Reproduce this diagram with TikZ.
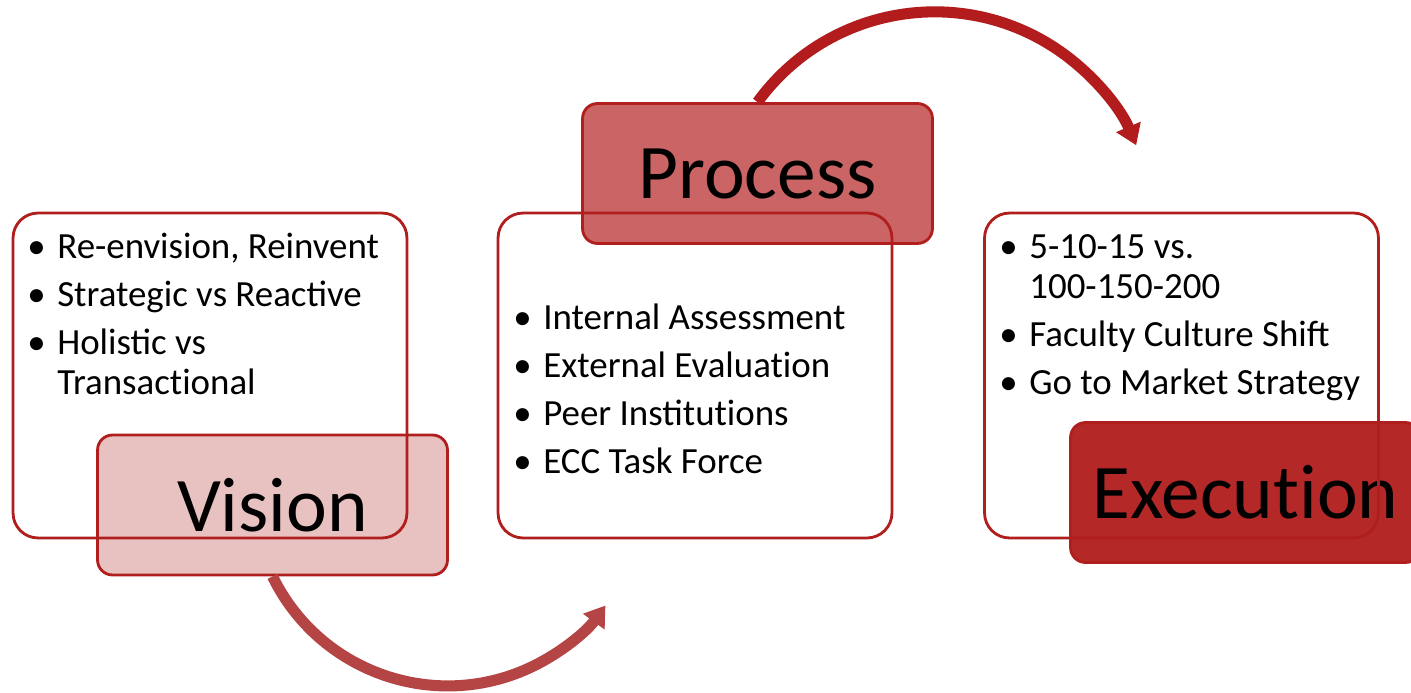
\documentclass[tikz,border=0pt]{standalone}
\usepackage{fontspec}
\setmainfont{Carlito}
\usetikzlibrary{positioning}
\usetikzlibrary{arrows.meta}
\definecolor{boxline}{HTML}{B01E1E}
\definecolor{visfill}{HTML}{E8C1C1}
\definecolor{procfill}{HTML}{CB6464}
\definecolor{execfill}{HTML}{B42828}
\definecolor{lowarrow}{HTML}{B54444}
\definecolor{higharrow}{HTML}{B21C1C}
\tikzset{%
  textbox/.style = {rectangle,draw=boxline,line width=1.6pt,
        rounded corners=0.5cm,minimum width=7.88cm,minimum height=6.5cm},
  labelbox/.style = {rectangle,draw=boxline,line width=1.6pt,
        rounded corners=0.3cm,minimum width=7.0cm,minimum height=2.8cm,
        font=\fontsize{44}{50}\selectfont},
  bigarrow/.style = {-{Triangle[length=0pt 1.8,width=0pt 2.3]},
        line width=6.3pt},
  items/.style = {anchor=base west,inner sep=0pt,
        font=\fontsize{21}{22.8}\selectfont}
}
\newcommand{\gap}{\\[0.16cm]}
% split t+i so no ligature is formed
\newcommand{\tsep}{t\kern0pt }

\begin{document}
\begin{tikzpicture}[x=0.02cm,y=-0.02cm]
   \useasboundingbox (0,0) rectangle (1411,693);
   \clip (0,0) rectangle (1411,693);
   % labels
   \node[labelbox,fill=visfill] (vislabel) at (272.5,505) {Vision};
   \node[labelbox,fill=procfill] (proclabel) at (757.5,173.5) {Process};
   \node[labelbox,fill=execfill] (execlabel) at (1245.5,492.5) {Execu\tsep ion};
   % arrows
   \draw[bigarrow,lowarrow] (vislabel.south)
      arc[start angle=206,end angle=324,radius=3.9cm];
   \draw[bigarrow,higharrow] (proclabel.north)
      arc[start angle=144,end angle=23,radius=4.38cm];
   % text boxes
   \node[textbox] (visbox) at (210,375.5) {};
   \node[textbox] (procbox) at (695,375.5) {};
   \node[textbox] (execbox) at (1181.5,375.5) {};
   % lists
   \node[items] (vislist) at (27,258) {%
      \begin{tabular}[t]{@{}p{0.6cm}@{}l@{}}
      \textbullet & Re-envision, Reinvent\gap
      \textbullet & Strategic vs Reactive\gap
      \textbullet & Holistic vs\\
                  & Transac\tsep ional
      \end{tabular}};
   \node[items] (proclist) at (513,329) {%
      \begin{tabular}[t]{@{}p{0.6cm}@{}l@{}}
      \textbullet & Internal Assessment\gap
      \textbullet & External Evalua\tsep ion\gap
      \textbullet & Peer Insti\tsep u\tsep ions\gap
      \textbullet & ECC Task Force
      \end{tabular}};
   \node[items] (execlist) at (999,258) {%
      \begin{tabular}[t]{@{}p{0.6cm}@{}l@{}}
      \textbullet & 5-10-15 vs.\\
                  & 100-150-200\gap
      \textbullet & Faculty Culture Shift\gap
      \textbullet & Go to Market Strategy
      \end{tabular}};
\end{tikzpicture}
\end{document}
